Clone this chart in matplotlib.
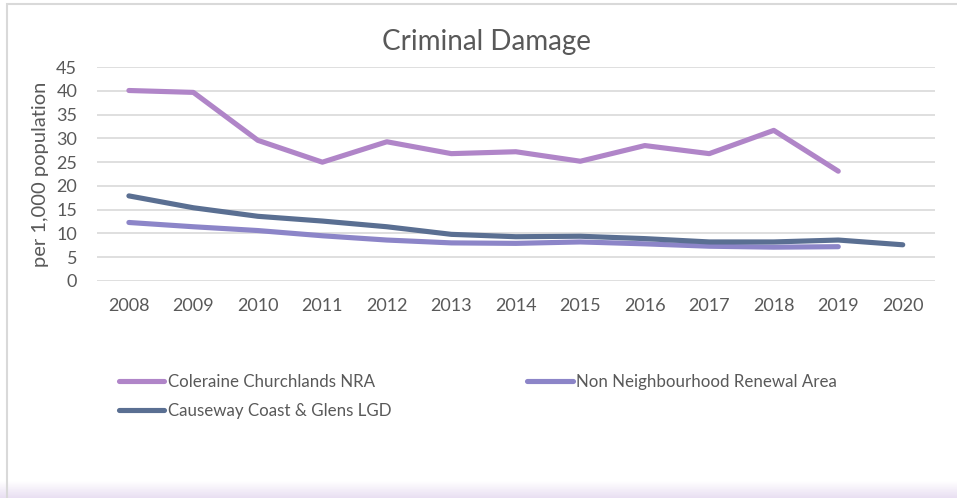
import numpy as np
import matplotlib.pyplot as plt
from matplotlib.patches import Rectangle
from matplotlib.colors import LinearSegmentedColormap

plt.rcParams['font.family'] = ['Lato', 'DejaVu Sans']

years = list(range(2008, 2021))
coleraine = [40.1, 39.7, 29.6, 25.0, 29.3, 26.8, 27.2, 25.2, 28.5, 26.8, 31.7, 23.1]
non_nra = [12.3, 11.4, 10.6, 9.5, 8.6, 8.0, 7.9, 8.2, 7.8, 7.3, 7.1, 7.2]
causeway = [17.9, 15.4, 13.6, 12.6, 11.4, 9.8, 9.3, 9.4, 8.9, 8.2, 8.2, 8.6, 7.6]
yticks = list(range(0, 50, 5))

text_col = '#595959'

fig = plt.figure(figsize=(9.57, 4.98), dpi=100)

# bottom shading and frame
grad = fig.add_axes([0.0, 0.0, 1.0, 0.034])
grad.imshow(np.linspace(0, 1, 20).reshape(-1, 1), aspect='auto',
            cmap=LinearSegmentedColormap.from_list('g', ['#FFFFFF', '#E9DFF2']))
grad.axis('off')
fig.patches.append(Rectangle((0.0075, -0.05), 1.1, 1.042, transform=fig.transFigure,
                             fill=False, edgecolor='#D9D9D9', lw=1.5))

ax = fig.add_axes([0.101, 0.436, 0.876, 0.429])

ax.plot(years[:len(coleraine)], coleraine, color='#B085C8', lw=3.7,
        solid_capstyle='round', label='Coleraine Churchlands NRA')
ax.plot(years[:len(non_nra)], non_nra, color='#8C85C8', lw=3.7,
        solid_capstyle='round', label='Non Neighbourhood Renewal Area')
ax.plot(years, causeway, color='#5A6F92', lw=3.7,
        solid_capstyle='round', label='Causeway Coast & Glens LGD')

ax.set_xlim(2007.5, 2020.5)
ax.set_ylim(0, 45)
ax.set_yticks(yticks)
ax.set_xticks(years)
ax.grid(axis='y', color='#D9D9D9', lw=1.2)
ax.set_axisbelow(True)
for s in ax.spines.values():
    s.set_visible(False)
ax.tick_params(length=0, labelsize=13, labelcolor=text_col)
ax.tick_params(axis='x', pad=12.5)
ax.tick_params(axis='y', pad=14)
ax.set_ylabel('per 1,000 population', fontsize=14.5, color=text_col, labelpad=5)
fig.text(0.508, 0.916, 'Criminal Damage', fontsize=20, color=text_col,
         ha='center', va='center')

h, l = ax.get_legend_handles_labels()
order = [0, 2, 1]
fig.legend([h[i] for i in order], [l[i] for i in order], ncol=2,
           loc='upper left', bbox_to_anchor=(0.108, 0.279), frameon=False,
           fontsize=12.2, labelcolor=text_col, handlelength=2.7,
           handletextpad=0.2, columnspacing=8.0, labelspacing=0.75)

fig.savefig('out.png', dpi=100)
